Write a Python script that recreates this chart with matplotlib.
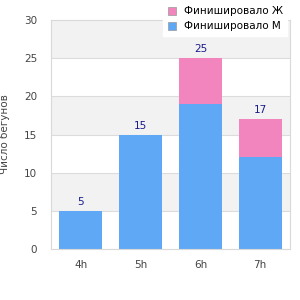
import matplotlib
matplotlib.use('Agg')
import matplotlib.pyplot as plt

categories = ['4h', '5h', '6h', '7h']
male = [5, 15, 19, 12]
female = [0, 0, 6, 5]
totals = [m + f for m, f in zip(male, female)]

fig = plt.figure(figsize=(3, 3), dpi=100)
ax = fig.add_axes([0.17, 0.17, 0.797, 0.763])

# alternating bands
for lo in range(5, 30, 10):
    ax.axhspan(lo, lo + 5, color='#f2f2f2', zorder=0, lw=0)
for y in range(5, 30, 5):
    ax.axhline(y, color='#dcdcdc', lw=0.8, zorder=0.5)

x = range(len(categories))
ax.bar(x, male, width=0.72, color='#5fa8f5', label='Финишировало М', zorder=2)
ax.bar(x, female, bottom=male, width=0.72, color='#f285bd', label='Финишировало Ж', zorder=2)

for i, t in enumerate(totals):
    ax.text(i, t + 0.5, str(t), ha='center', va='bottom', fontsize=7.5, color='#1a1a8c')

ax.set_xlim(-0.5, 3.5)
ax.set_ylim(0, 30)
ax.set_yticks(range(0, 31, 5))
ax.set_xticks(list(x))
ax.set_xticklabels(categories)
ax.tick_params(length=0, labelsize=7.5, labelcolor='#444444', pad=8)
ax.tick_params(axis='y', pad=10)
for s in ax.spines.values():
    s.set_color('#d9d9d9')
ax.set_ylabel('Число бегунов', fontsize=7.5, color='#444444', labelpad=10)

h, l = ax.get_legend_handles_labels()
leg = fig.legend(h[::-1], l[::-1], loc='upper right', bbox_to_anchor=(0.965, 1.0),
                 fontsize=7.5, frameon=True, fancybox=False, edgecolor='white',
                 handlelength=0.8, handleheight=0.8, borderaxespad=0.2, labelspacing=0.5)
leg.get_frame().set_facecolor('white')
leg.get_frame().set_alpha(1)
for p in leg.get_patches():
    p.set_edgecolor('#999999')
    p.set_linewidth(0.5)

fig.savefig('out.png', dpi=100)
